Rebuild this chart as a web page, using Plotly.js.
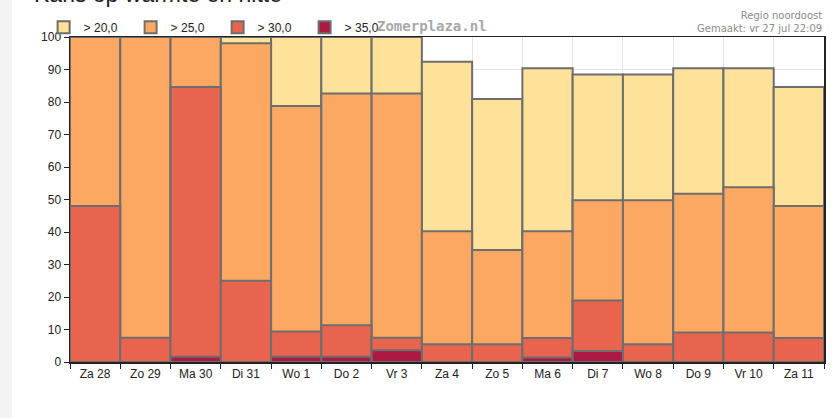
<!DOCTYPE html>
<html>
<head>
<meta charset="utf-8">
<script src="https://cdn.plot.ly/plotly-3.0.1.min.js"></script>
<style>
  html, body { margin:0; padding:0; background:#fff; }
  #strip { position:absolute; left:0; top:0; width:12px; height:418px; background:#f3f3f3; }
  #chart { position:absolute; left:0; top:0; width:839px; height:418px; }
</style>
</head>
<body>
<div id="chart"></div>
<div id="strip"></div>
<script>
// ---- data (percent chance that max temp exceeds threshold) ----
const days = ['Za 28', 'Zo 29', 'Ma 30', 'Di 31', 'Wo 1', 'Do 2', 'Vr 3',
              'Za 4', 'Zo 5', 'Ma 6', 'Di 7', 'Wo 8', 'Do 9', 'Vr 10', 'Za 11'];
const above20 = [100, 100, 100, 100, 100, 100, 100, 92.4, 80.9, 90.4, 88.5, 88.5, 90.4, 90.4, 84.6];
const above25 = [100, 100, 100, 98.1, 78.8, 82.6, 82.6, 40.2, 34.5, 40.2, 49.8, 49.8, 51.8, 53.8, 48.0];
const above30 = [48.0, 7.5, 84.6, 25.0, 9.4, 11.3, 7.5, 5.5, 5.5, 7.4, 18.9, 5.5, 9.1, 9.1, 7.4];
const above35 = [0, 0, 1.6, 0, 1.6, 1.6, 3.6, 0, 0, 1.4, 3.4, 0, 0, 0, 0];

const seriesNames  = ['> 20,0', '> 25,0', '> 30,0', '> 35,0'];
const seriesValues = [above20, above25, above30, above35];
const seriesColors = ['#ffe29a', '#fca863', '#e8644f', '#ae1944'];

const traces = seriesValues.map((vals, i) => ({
  type: 'bar',
  name: seriesNames[i],
  x: days,
  y: vals,
  marker: { color: seriesColors[i], line: { color: '#6e6e6e', width: 2 } },
  hoverinfo: 'x+y+name'
}));

const layout = {
  width: 839,
  height: 418,
  margin: { l: 70, r: 15, t: 37, b: 56 },
  paper_bgcolor: '#ffffff',
  plot_bgcolor: '#ffffff',
  barmode: 'overlay',
  bargap: 0,
  font: { family: 'Liberation Sans, Arial, sans-serif', size: 12, color: '#222' },
  showlegend: true,
  legend: {
    orientation: 'h',
    x: -0.035, xanchor: 'left',
    y: 1.03, yanchor: 'middle',
    font: { size: 12, color: '#222' },
    entrywidth: 42,
    itemwidth: 30,
    bgcolor: 'rgba(0,0,0,0)'
  },
  xaxis: {
    type: 'category',
    tickson: 'boundaries',
    ticks: 'outside', ticklen: 5, tickcolor: '#222',
    showline: true, linecolor: '#222', linewidth: 1.5, mirror: true,
    showgrid: true, gridcolor: '#e4e4e4', gridwidth: 1,
    tickfont: { size: 12, color: '#222' },
    fixedrange: true
  },
  yaxis: {
    range: [0, 100],
    dtick: 10,
    ticks: 'outside', ticklen: 5, tickcolor: '#222',
    showline: true, linecolor: '#222', linewidth: 1.5, mirror: true,
    showgrid: true, gridcolor: '#e4e4e4', gridwidth: 1,
    zeroline: false,
    tickfont: { size: 12, color: '#222' },
    fixedrange: true
  },
  annotations: [
    { text: 'Kans op warmte en hitte', xref: 'paper', yref: 'paper',
      x: -0.05, y: 1.086, xanchor: 'left', yanchor: 'bottom', showarrow: false,
      font: { size: 23, color: '#222', family: 'Liberation Sans, Arial, sans-serif' } },
    { text: 'Zomerplaza.nl', xref: 'paper', yref: 'paper',
      x: 0.405, y: 1.035, xanchor: 'left', yanchor: 'middle', showarrow: false,
      font: { size: 14, color: '#a8a8a8', family: 'DejaVu Sans Mono, monospace', weight: 'bold' } },
    { text: 'Regio noordoost<br>Gemaakt: vr 27 jul 22:09', xref: 'paper', yref: 'paper',
      x: 1, y: 1.003, xanchor: 'right', yanchor: 'bottom', align: 'right', showarrow: false,
      font: { size: 10, color: '#8a8a8a', family: 'DejaVu Sans, sans-serif' } }
  ]
};

Plotly.newPlot('chart', traces, layout, { displayModeBar: false, staticPlot: true });
</script>
</body>
</html>
